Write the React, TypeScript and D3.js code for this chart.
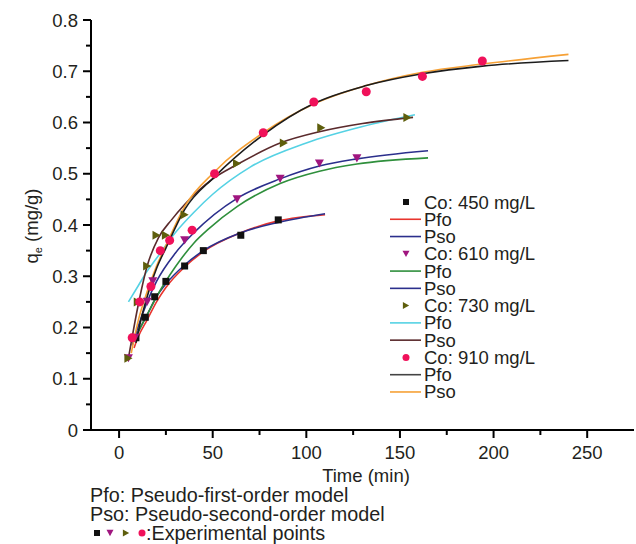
import React from "react";
import * as d3 from "d3";

// ---------- data ----------
const t450 = [9, 14, 19, 25, 35, 45, 65, 85];
const q450 = [0.18, 0.22, 0.26, 0.29, 0.32, 0.35, 0.38, 0.41];
const t610 = [5, 8.5, 15, 18, 35, 63, 86, 107, 127];
const q610 = [0.14, 0.18, 0.25, 0.29, 0.37, 0.45, 0.49, 0.52, 0.53];
const t730 = [5, 10, 15, 20, 25, 35, 63, 88, 108, 154];
const q730 = [0.14, 0.25, 0.32, 0.38, 0.38, 0.42, 0.52, 0.56, 0.59, 0.61];
const t910 = [7, 11, 17, 22, 27, 39, 51, 77, 104, 132, 162, 194];
const q910 = [0.18, 0.25, 0.28, 0.35, 0.37, 0.39, 0.5, 0.58, 0.64, 0.66, 0.69, 0.72];

// fitted curves
const pfo450T = [8, 10, 15, 20, 25, 35, 45, 65, 85, 110];
const pfo450Q = [0.16, 0.18, 0.215, 0.25, 0.278, 0.318, 0.348, 0.385, 0.408, 0.42];
const pso450T = [7.5, 10, 15, 20, 25, 35, 45, 65, 85, 110];
const pso450Q = [0.17, 0.19, 0.225, 0.26, 0.285, 0.322, 0.35, 0.385, 0.405, 0.422];
const pfo610T = [10, 15, 20, 30, 40, 48, 63, 86, 107, 127, 165];
const pfo610Q = [0.19, 0.225, 0.26, 0.318, 0.365, 0.393, 0.436, 0.481, 0.505, 0.519, 0.531];
const pso610T = [7, 10, 15, 20, 30, 40, 63, 86, 107, 127, 165];
const pso610Q = [0.165, 0.2, 0.25, 0.29, 0.345, 0.385, 0.452, 0.49, 0.515, 0.529, 0.545];
const pfo730T = [5, 10, 15, 20, 30, 40, 50, 70, 100, 130, 158];
const pfo730Q = [0.25, 0.28, 0.31, 0.335, 0.385, 0.425, 0.46, 0.513, 0.56, 0.592, 0.615];
const pso730T = [5, 10, 15, 21, 28, 35, 50, 63, 86, 107, 130, 157];
const pso730Q = [0.14, 0.24, 0.32, 0.375, 0.41, 0.44, 0.49, 0.518, 0.56, 0.582, 0.598, 0.61];
const pfo910T = [9, 12, 15, 20, 25, 35, 51, 77, 104, 132, 162, 194, 240];
const pfo910Q = [0.17, 0.22, 0.26, 0.315, 0.355, 0.43, 0.494, 0.576, 0.637, 0.672, 0.695, 0.71, 0.721];
const pso910T = [6.5, 10, 15, 20, 25, 35, 51, 77, 104, 132, 162, 194, 240];
const pso910Q = [0.15, 0.21, 0.27, 0.32, 0.36, 0.436, 0.504, 0.58, 0.636, 0.672, 0.698, 0.714, 0.733];

const xTicks = [0, 50, 100, 150, 200, 250];
const xMinor = [25, 75, 125, 175, 225];
const yTicks = [0, 0.1, 0.2, 0.3, 0.4, 0.5, 0.6, 0.7, 0.8];
const yMinor = [0.05, 0.15, 0.25, 0.35, 0.45, 0.55, 0.65, 0.75];

const C = {
  sq: "#111111",
  tri: "#a0167f",
  rtri: "#5e5e0c",
  circ: "#f0115a",
  red: "#e8352e",
  navy: "#2b2f8c",
  green: "#2f8f3c",
  cyan: "#55d2e4",
  brown: "#5a2a2c",
  black: "#1c1c1c",
  gray: "#444444",
  orange: "#f6a136",
  text: "#231f20",
};

const FONT = "'Liberation Sans', Arial, Helvetica, sans-serif";

type Shape = "square" | "down" | "right" | "circle";

function Marker({ shape, cx, cy, s, color }: { shape: Shape; cx: number; cy: number; s: number; color: string }) {
  if (shape === "square") return <rect x={cx - s / 2} y={cy - s / 2} width={s} height={s} fill={color} />;
  if (shape === "circle") return <circle cx={cx} cy={cy} r={s / 2} fill={color} />;
  if (shape === "down") {
    const h = s * 0.9;
    return <path d={`M${cx - s / 2},${cy - h / 2}L${cx + s / 2},${cy - h / 2}L${cx},${cy + h / 2}Z`} fill={color} />;
  }
  const w = s * 0.9;
  return <path d={`M${cx - w / 2},${cy - s / 2}L${cx + w / 2},${cy}L${cx - w / 2},${cy + s / 2}Z`} fill={color} />;
}

export default function App() {
  const x = d3.scaleLinear().domain([-15, 275]).range([91, 634]);
  const y = d3.scaleLinear().domain([0, 0.8]).range([430, 20]);
  const line = d3
    .line<[number, number]>()
    .x((d) => x(d[0]))
    .y((d) => y(d[1]))
    .curve(d3.curveMonotoneX);
  const zip = (a: number[], b: number[]) => a.map((v, i) => [v, b[i]] as [number, number]);

  const curves = [
    { t: pfo450T, q: pfo450Q, c: C.red },
    { t: pso450T, q: pso450Q, c: C.navy },
    { t: pfo610T, q: pfo610Q, c: C.green },
    { t: pso610T, q: pso610Q, c: C.navy },
    { t: pfo730T, q: pfo730Q, c: C.cyan },
    { t: pso730T, q: pso730Q, c: C.brown },
    { t: pso910T, q: pso910Q, c: C.orange },
    { t: pfo910T, q: pfo910Q, c: C.black },
  ];

  const points: { t: number[]; q: number[]; shape: Shape; c: string; s: number }[] = [
    { t: t450, q: q450, shape: "square", c: C.sq, s: 7 },
    { t: t610, q: q610, shape: "down", c: C.tri, s: 9 },
    { t: t730, q: q730, shape: "right", c: C.rtri, s: 9 },
    { t: t910, q: q910, shape: "circle", c: C.circ, s: 9 },
  ];

  const legendRows: { kind: "pt" | "ln"; label: string; color: string; shape?: Shape }[] = [
    { kind: "pt", label: "Co: 450 mg/L", color: C.sq, shape: "square" },
    { kind: "ln", label: "Pfo", color: C.red },
    { kind: "ln", label: "Pso", color: C.navy },
    { kind: "pt", label: "Co: 610 mg/L", color: C.tri, shape: "down" },
    { kind: "ln", label: "Pfo", color: C.green },
    { kind: "ln", label: "Pso", color: C.navy },
    { kind: "pt", label: "Co: 730 mg/L", color: C.rtri, shape: "right" },
    { kind: "ln", label: "Pfo", color: C.cyan },
    { kind: "ln", label: "Pso", color: C.brown },
    { kind: "pt", label: "Co: 910 mg/L", color: C.circ, shape: "circle" },
    { kind: "ln", label: "Pfo", color: C.gray },
    { kind: "ln", label: "Pso", color: C.orange },
  ];

  const x0 = 91;
  const y0 = 430;

  return (
    <svg
      width={636}
      height={544}
      style={{ position: "absolute", left: 0, top: 0, background: "#fff" }}
      fontFamily={FONT}
    >
      {/* curves */}
      {curves.map((cv, i) => (
        <path key={i} d={line(zip(cv.t, cv.q)) || ""} fill="none" stroke={cv.c} strokeWidth={1.6} />
      ))}
      {/* points */}
      {points.map((p, i) =>
        p.t.map((tv, j) => <Marker key={`${i}-${j}`} shape={p.shape} cx={x(tv)} cy={y(p.q[j])} s={p.s} color={p.c} />)
      )}

      {/* axes */}
      <line x1={x0} y1={y(0.8)} x2={x0} y2={y0} stroke="#000" strokeWidth={2} />
      <line x1={83} y1={y0} x2={634} y2={y0} stroke="#000" strokeWidth={2} />
      {yTicks.map((v) => (
        <g key={v}>
          <line x1={83} x2={x0} y1={y(v)} y2={y(v)} stroke="#000" strokeWidth={2} />
          <text x={78} y={y(v) + 6.5} textAnchor="end" fontSize={18.5} fill={C.text}>
            {v === 0 ? "0" : v.toFixed(1)}
          </text>
        </g>
      ))}
      {yMinor.map((v) => (
        <line key={v} x1={86} x2={x0} y1={y(v)} y2={y(v)} stroke="#000" strokeWidth={2} />
      ))}
      {xTicks.map((v) => (
        <g key={v}>
          <line x1={x(v)} x2={x(v)} y1={y0} y2={y0 + 8} stroke="#000" strokeWidth={2} />
          <text x={x(v)} y={459} textAnchor="middle" fontSize={18.5} fill={C.text}>
            {v}
          </text>
        </g>
      ))}
      {xMinor.map((v) => (
        <line key={v} x1={x(v)} x2={x(v)} y1={y0} y2={y0 + 5} stroke="#000" strokeWidth={2} />
      ))}

      {/* axis titles */}
      <text x={366} y={481.5} textAnchor="middle" fontSize={18.5} fill={C.text}>
        Time (min)
      </text>
      <text transform={`translate(38,226) rotate(-90)`} textAnchor="middle" fontSize={18.5} fill={C.text}>
        q<tspan fontSize={11} dy={4}>e</tspan>
        <tspan dy={-4}> (mg/g)</tspan>
      </text>

      {/* legend */}
      {legendRows.map((r, i) => {
        const cy = 202 + i * 17.27;
        return (
          <g key={i}>
            {r.kind === "pt" ? (
              <Marker shape={r.shape as Shape} cx={406} cy={cy} s={r.shape === "square" ? 6 : 7} color={r.color} />
            ) : (
              <line x1={390} x2={421} y1={cy} y2={cy} stroke={r.color} strokeWidth={1.6} />
            )}
            <text x={424} y={cy + 6.5} fontSize={18.5} fill={C.text}>
              {r.label}
            </text>
          </g>
        );
      })}

      {/* notes under the chart */}
      <text x={90} y={502} fontSize={19.8} fill={C.text}>
        Pfo: Pseudo-first-order model
      </text>
      <text x={90} y={521} fontSize={19.8} fill={C.text}>
        Pso: Pseudo-second-order model
      </text>
      <Marker shape="square" cx={97} cy={533} s={6} color={C.sq} />
      <Marker shape="down" cx={110} cy={533} s={7} color={C.tri} />
      <Marker shape="right" cx={126} cy={533} s={7} color={C.rtri} />
      <Marker shape="circle" cx={142} cy={533} s={7} color={C.circ} />
      <text x={146} y={540} fontSize={19.8} fill={C.text}>
        :Experimental points
      </text>
    </svg>
  );
}
